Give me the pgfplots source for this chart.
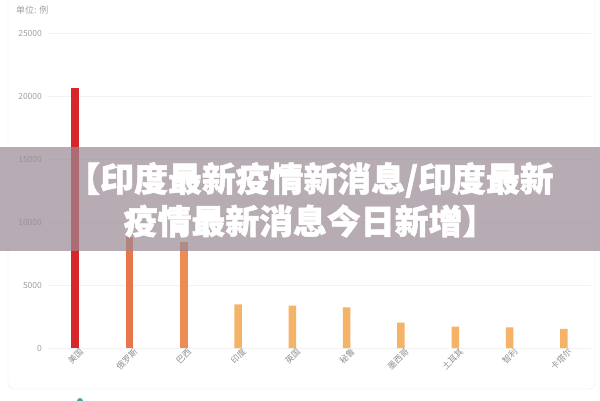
\documentclass[border=0pt]{standalone}
\usepackage{pgfplots}
\pgfplotsset{compat=1.18}
\usepackage{fontspec}
\newfontfamily\cjk{Noto Sans CJK SC}
\newfontfamily\cjkb{Noto Sans CJK SC}[BoldFeatures={FakeBold=1.5}]
\definecolor{cred}{HTML}{D8272B}
\definecolor{corA}{HTML}{E8764B}
\definecolor{corB}{HTML}{EE8C55}
\definecolor{corC}{HTML}{F5B368}
\definecolor{tgray}{HTML}{A0A0A0}
\definecolor{gridc}{HTML}{F2F2F2}
\definecolor{banner}{RGB}{155,138,149}
\begin{document}
\begin{tikzpicture}[x=1bp,y=1bp]
\path[use as bounding box, fill=white] (0,0) rectangle (600,400);
\begin{scope}
\clip (0,0) rectangle (600,400);
\draw[draw=black!8, rounded corners=6bp] (8,11) rectangle (595,430);
\fill[teal!70] (80,-1) circle (3);
\end{scope}
\node[anchor=west, font=\cjk\fontsize{9}{10}\selectfont, text=tgray, inner sep=0pt] at (16,390) {单位: 例};
\begin{axis}[
  at={(48bp,52bp)}, anchor=south west,
  scale only axis, width=543bp, height=315bp,
  xmin=-0.5, xmax=9.5, ymin=0, ymax=25000,
  axis line style={draw=none},
  ytick={0,5000,10000,15000,20000,25000},
  scaled y ticks=false,
  ymajorgrids, grid style={gridc, line width=0.6bp},
  major tick length=0pt,
  xtick={0,1,2,3,4,5,6,7,8,9},
  xticklabels={美国,俄罗斯,巴西,印度,英国,秘鲁,墨西哥,土耳其,智利,卡塔尔},
  xticklabel style={font=\cjk\fontsize{8.5}{9}\selectfont, text=tgray!90!black, rotate=45, anchor=north east, inner sep=1bp, xshift=4bp, yshift=-1bp},
  yticklabel style={font=\cjk\fontsize{8.5}{9}\selectfont, text=tgray, anchor=east, inner sep=0pt, xshift=-6bp},
  /pgf/number format/assume math mode=true,
  /pgf/number format/1000 sep={},
  ybar, bar width=7.5bp, bar shift=0pt,
  clip=false,
]
\addplot[fill=cred, draw=none] coordinates {(0,20600)};
\addplot[fill=corA, draw=none] coordinates {(1,8800)};
\addplot[fill=corB, draw=none] coordinates {(2,8400)};
\addplot[fill=corC, draw=none] coordinates {(3,3470) (4,3360) (5,3230) (6,2010) (7,1690) (8,1640) (9,1510)};
\end{axis}
\fill[banner, opacity=0.7] (0,149) rectangle (600,253);
\node[font=\cjkb\bfseries\fontsize{34}{35}\selectfont, text=white, inner sep=0pt] at (310,220) {【印度最新疫情新消息/印度最新};
\node[font=\cjkb\bfseries\fontsize{34}{35}\selectfont, text=white, inner sep=0pt] at (310,179) {疫情最新消息今日新增】};
\end{tikzpicture}
\end{document}
